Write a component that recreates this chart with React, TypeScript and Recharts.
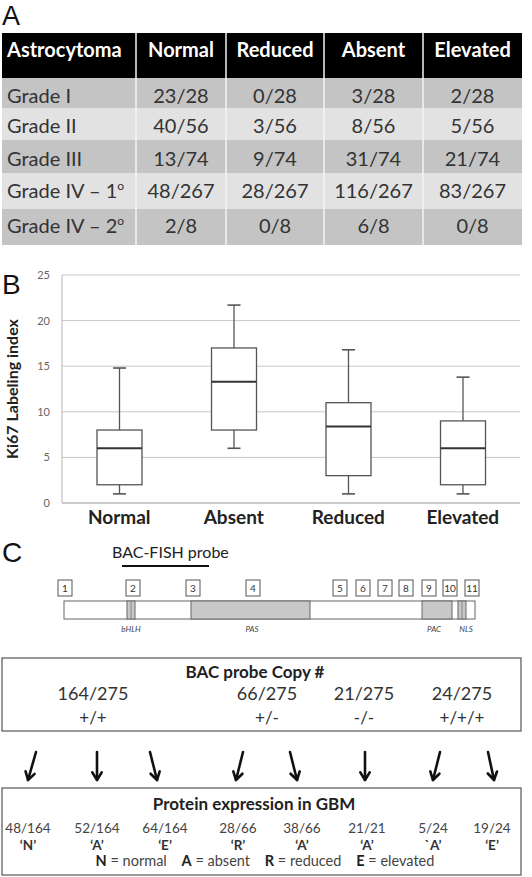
import React from 'react';
import { ComposedChart, Bar, XAxis, YAxis, CartesianGrid } from 'recharts';

// ---------- Panel A data ----------
const tableHeaders = ['Astrocytoma', 'Normal', 'Reduced', 'Absent', 'Elevated'];
const gradeLabels = ['Grade I', 'Grade II', 'Grade III', 'Grade IV – 1', 'Grade IV – 2'];
const gradeSuperscripts = ['', '', '', 'o', 'o'];
const normalCounts = ['23/28', '40/56', '13/74', '48/267', '2/8'];
const reducedCounts = ['0/28', '3/56', '9/74', '28/267', '0/8'];
const absentCounts = ['3/28', '8/56', '31/74', '116/267', '6/8'];
const elevatedCounts = ['2/28', '5/56', '21/74', '83/267', '0/8'];

// ---------- Panel B data ----------
const categories = ['Normal', 'Absent', 'Reduced', 'Elevated'];
const mins = [1, 6, 1, 1];
const q1s = [2, 8, 3, 2];
const medians = [6, 13.3, 8.4, 6];
const q3s = [8, 17, 11, 9];
const maxs = [14.8, 21.7, 16.8, 13.8];
const yTicks = [0, 5, 10, 15, 20, 25];

// ---------- Panel C data ----------
const exonLabels = ['1', '2', '3', '4', '5', '6', '7', '8', '9', '10', '11'];
const copyFractions = ['164/275', '66/275', '21/275', '24/275'];
const copyGenotypes = ['+/+', '+/-', '-/-', '+/+/+'];
const proteinFractions = ['48/164', '52/164', '64/164', '28/66', '38/66', '21/21', '5/24', '19/24'];
const proteinCodes = ['‘N’', '‘A’', '‘E’', '‘R’', '‘A’', '‘A’', '`A’', '‘E’'];

const boxData = categories.map((name, i) => ({
  name,
  min: mins[i],
  q1: q1s[i],
  median: medians[i],
  q3: q3s[i],
  max: maxs[i],
  range: [mins[i], maxs[i]],
}));

const FONT = 'Lato, "Open Sans", sans-serif';
const LETTER_FONT = '"Liberation Sans", Arial, sans-serif';

const BoxShape = (props: any) => {
  const { x, y, width, height, payload } = props;
  const top = Math.min(y, y + height);
  const bottom = Math.max(y, y + height);
  const { min, q1, median, q3, max } = payload;
  const pix = (v: number) => bottom - ((v - min) / (max - min)) * (bottom - top);
  const cx = x + width / 2;
  const cap = 6.5;
  const stroke = '#555';
  return (
    <g>
      <line x1={cx} x2={cx} y1={pix(max)} y2={pix(q3)} stroke={stroke} strokeWidth={1.3} />
      <line x1={cx} x2={cx} y1={pix(q1)} y2={pix(min)} stroke={stroke} strokeWidth={1.3} />
      <line x1={cx - cap} x2={cx + cap} y1={pix(max)} y2={pix(max)} stroke={stroke} strokeWidth={1.6} />
      <line x1={cx - cap} x2={cx + cap} y1={pix(min)} y2={pix(min)} stroke={stroke} strokeWidth={1.6} />
      <rect x={x} y={pix(q3)} width={width} height={pix(q1) - pix(q3)} fill="#fff" stroke={stroke} strokeWidth={1.3} />
      <line x1={x} x2={x + width} y1={pix(median)} y2={pix(median)} stroke="#333" strokeWidth={2} />
    </g>
  );
};

const renderYLabel = (p: any) => {
  const vb = p.viewBox || { x: 0, y: 0, width: 0, height: 0 };
  const cx = vb.x + 11;
  const cy = vb.y + vb.height / 2;
  return (
    <text
      x={cx}
      y={cy}
      transform={`rotate(-90 ${cx} ${cy})`}
      textAnchor="middle"
      dominantBaseline="central"
      fontFamily={FONT}
      fontWeight={700}
      fontSize={16}
      fill="#222"
    >
      Ki67 Labeling index
    </text>
  );
};

// table layout
const colEdges = [2, 136, 226, 324, 423, 522];
const rowEdges = [33, 78, 108, 140, 173, 209, 245];
const rowBaselines = [103, 133, 166, 198, 233];
const rowFills = ['#c4c4c4', '#e2e2e2', '#c4c4c4', '#e2e2e2', '#c4c4c4'];

// diagram layout
const exonX = [58, 126, 186, 246, 333, 356, 378, 399, 422, 443, 465];
const copyX = [93, 267, 364, 462];
const arrowFrom = [36, 97, 150, 243, 290, 365, 440, 488];
const arrowTo = [28, 97, 157, 236, 297, 365, 433, 494];
const proteinX = [28, 97, 165, 238, 302, 367, 433, 492];

const Arrow = ({ x1, x2 }: { x1: number; x2: number }) => {
  const y1 = 752;
  const y2 = 780;
  const ang = Math.atan2(y2 - y1, x2 - x1);
  const len = 9;
  const spread = 0.55;
  const ax = x2 - len * Math.cos(ang - spread);
  const ay = y2 - len * Math.sin(ang - spread);
  const bx = x2 - len * Math.cos(ang + spread);
  const by = y2 - len * Math.sin(ang + spread);
  return (
    <g stroke="#111" strokeWidth={2.6} fill="none" strokeLinecap="round" strokeLinejoin="round">
      <line x1={x1} y1={y1} x2={x2} y2={y2} />
      <polyline points={`${ax},${ay} ${x2},${y2} ${bx},${by}`} />
    </g>
  );
};

export default function App() {
  const dataCols = [normalCounts, reducedCounts, absentCounts, elevatedCounts];
  return (
    <div style={{ position: 'absolute', left: 0, top: 0, width: 532, height: 877, background: '#fff', overflow: 'hidden' }}>
      <svg width={532} height={877} style={{ position: 'absolute', left: 0, top: 0 }}>
        {/* Panel letters */}
        <text x={2} y={25} fontFamily={LETTER_FONT} fontSize={27} fill="#111">A</text>
        <text x={2} y={294} fontFamily={LETTER_FONT} fontSize={28} fill="#111">B</text>
        <text x={2} y={562} fontFamily={LETTER_FONT} fontSize={28} fill="#111">C</text>

        {/* Panel A table */}
        <rect x={colEdges[0]} y={rowEdges[0]} width={colEdges[5] - colEdges[0]} height={rowEdges[1] - rowEdges[0]} fill="#000" />
        {rowFills.map((f, i) => (
          <rect key={'r' + i} x={colEdges[0]} y={rowEdges[i + 1]} width={colEdges[5] - colEdges[0]} height={rowEdges[i + 2] - rowEdges[i + 1]} fill={f} />
        ))}
        {colEdges.slice(1, 5).map((cx, i) => (
          <line key={'c' + i} x1={cx} x2={cx} y1={rowEdges[0]} y2={rowEdges[6]} stroke="#f4f4f4" strokeWidth={1.5} />
        ))}
        {tableHeaders.map((h, i) => (
          <text
            key={'h' + i}
            x={i === 0 ? 7 : (colEdges[i] + colEdges[i + 1]) / 2}
            y={57}
            textAnchor={i === 0 ? 'start' : 'middle'}
            fontFamily={FONT}
            fontWeight={700}
            fontSize={20}
            fill="#fff"
          >
            {h}
          </text>
        ))}
        {gradeLabels.map((g, r) => (
          <text key={'g' + r} x={7} y={rowBaselines[r]} fontFamily={FONT} fontSize={20} fill="#333">
            {g}
            {gradeSuperscripts[r] ? (
              <tspan fontSize={12} dy={-8}>{gradeSuperscripts[r]}</tspan>
            ) : null}
          </text>
        ))}
        {dataCols.map((col, c) =>
          col.map((v, r) => (
            <text
              key={'d' + c + '-' + r}
              x={(colEdges[c + 1] + colEdges[c + 2]) / 2}
              y={rowBaselines[r]}
              textAnchor="middle"
              fontFamily={FONT}
              fontSize={20}
              fill="#333"
            >
              {v}
            </text>
          ))
        )}

        {/* Panel C gene diagram */}
        <text x={112} y={558} fontFamily={FONT} fontSize={16} fill="#222">BAC-FISH probe</text>
        <line x1={122} x2={209} y1={566} y2={566} stroke="#111" strokeWidth={2.2} />
        {exonLabels.map((e, i) => (
          <g key={'e' + i}>
            <rect x={exonX[i]} y={580} width={14} height={16} fill="#fff" stroke="#555" strokeWidth={1} />
            <text x={exonX[i] + 7} y={592} textAnchor="middle" fontFamily={FONT} fontSize={10} fill="#333">{e}</text>
          </g>
        ))}
        <rect x={64} y={601} width={411} height={18} fill="#fff" stroke="#666" strokeWidth={1} />
        <rect x={127} y={601} width={8} height={18} fill="#c8c8c8" stroke="#666" strokeWidth={1} />
        <line x1={131} x2={131} y1={601} y2={619} stroke="#777" strokeWidth={0.8} />
        <rect x={191} y={601} width={119} height={18} fill="#c8c8c8" stroke="#666" strokeWidth={1} />
        <rect x={422} y={601} width={30} height={18} fill="#c8c8c8" stroke="#666" strokeWidth={1} />
        <rect x={458} y={601} width={8} height={18} fill="#c8c8c8" stroke="#666" strokeWidth={1} />
        <line x1={462} x2={462} y1={601} y2={619} stroke="#777" strokeWidth={0.8} />
        <text x={131} y={632} textAnchor="middle" fontFamily={FONT} fontStyle="italic" fontSize={8} fill="#444">bHLH</text>
        <text x={252} y={632} textAnchor="middle" fontFamily={FONT} fontStyle="italic" fontSize={8} fill="#444">PAS</text>
        <text x={434} y={632} textAnchor="middle" fontFamily={FONT} fontStyle="italic" fontSize={8} fill="#444">PAC</text>
        <text x={466} y={632} textAnchor="middle" fontFamily={FONT} fontStyle="italic" fontSize={8} fill="#444">NLS</text>

        {/* BAC probe copy box */}
        <rect x={2} y={658} width={519} height={73} fill="#fff" stroke="#555" strokeWidth={1.2} />
        <text x={255} y={678} textAnchor="middle" fontFamily={FONT} fontWeight={700} fontSize={17} fill="#222">BAC probe Copy #</text>
        {copyFractions.map((f, i) => (
          <text key={'cf' + i} x={copyX[i]} y={700} textAnchor="middle" fontFamily={FONT} fontSize={18} fill="#333">{f}</text>
        ))}
        {copyGenotypes.map((g, i) => (
          <text key={'cg' + i} x={copyX[i]} y={724} textAnchor="middle" fontFamily={FONT} fontSize={17} fill="#333">{g}</text>
        ))}

        {/* Arrows */}
        {arrowFrom.map((x1, i) => (
          <Arrow key={'a' + i} x1={x1} x2={arrowTo[i]} />
        ))}

        {/* Protein expression box */}
        <rect x={2} y={788} width={519} height={87} fill="#fff" stroke="#555" strokeWidth={1.2} />
        <text x={254} y={810} textAnchor="middle" fontFamily={FONT} fontWeight={700} fontSize={17} fill="#222">Protein expression in GBM</text>
        {proteinFractions.map((f, i) => (
          <text key={'pf' + i} x={proteinX[i]} y={833} textAnchor="middle" fontFamily={FONT} fontSize={13.5} fill="#444">{f}</text>
        ))}
        {proteinCodes.map((c, i) => (
          <text key={'pc' + i} x={proteinX[i]} y={850} textAnchor="middle" fontFamily={FONT} fontWeight={700} fontSize={13.5} fill="#333">{c}</text>
        ))}
        <text x={265} y={866} textAnchor="middle" fontFamily={FONT} fontSize={14.5} fill="#444" xmlSpace="preserve">
          <tspan fontWeight={700} fill="#222">N</tspan>
          <tspan> = normal    </tspan>
          <tspan fontWeight={700} fill="#222">A</tspan>
          <tspan> = absent    </tspan>
          <tspan fontWeight={700} fill="#222">R</tspan>
          <tspan> = reduced    </tspan>
          <tspan fontWeight={700} fill="#222">E</tspan>
          <tspan> = elevated</tspan>
        </text>
      </svg>

      {/* Panel B box plot */}
      <div style={{ position: 'absolute', left: 0, top: 250 }}>
        <ComposedChart width={532} height={285} data={boxData} margin={{ top: 25, right: 12, left: 0, bottom: 2 }}>
          <CartesianGrid vertical={false} stroke="#c8c8c8" strokeWidth={1} />
          <XAxis
            dataKey="name"
            type="category"
            height={30}
            tickLine={false}
            axisLine={{ stroke: '#b5b5b5' }}
            tickMargin={2}
            tick={{ fontFamily: FONT, fontWeight: 700, fontSize: 19, fill: '#222' }}
          />
          <YAxis
            width={62}
            domain={[0, 25]}
            ticks={yTicks}
            type="number"
            tickLine={false}
            axisLine={{ stroke: '#b5b5b5' }}
            tickMargin={6}
            tick={{ fontFamily: FONT, fontSize: 11, fill: '#666' }}
            label={{ content: renderYLabel }}
          />
          <Bar dataKey="range" barSize={45} shape={BoxShape} isAnimationActive={false} />
        </ComposedChart>
      </div>
    </div>
  );
}
